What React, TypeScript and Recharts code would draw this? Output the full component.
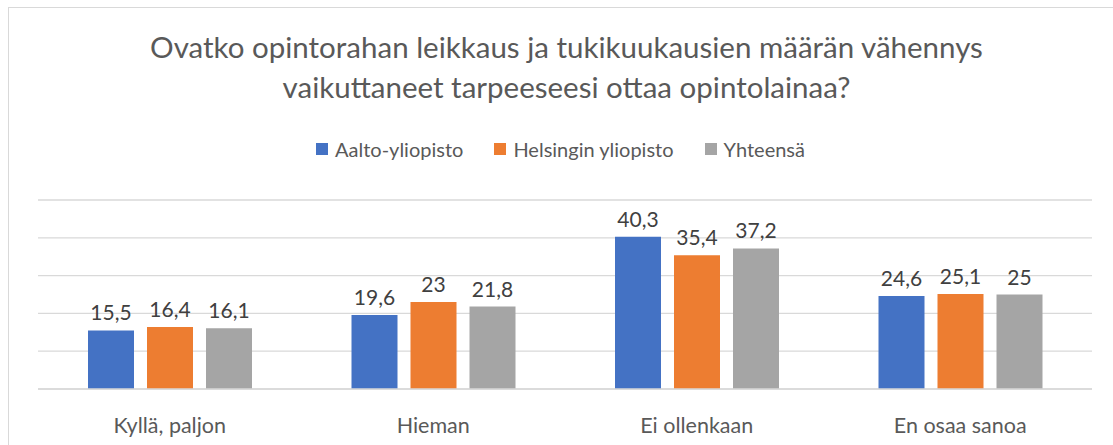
import { BarChart, Bar, XAxis, YAxis, CartesianGrid, LabelList } from "recharts";

const categories = ["Kyllä, paljon", "Hieman", "Ei ollenkaan", "En osaa sanoa"];
const aalto = [15.5, 19.6, 40.3, 24.6];
const helsinki = [16.4, 23, 35.4, 25.1];
const total = [16.1, 21.8, 37.2, 25];
const yTicks = [0, 10, 20, 30, 40, 50];

const series = [
  { key: "aalto", name: "Aalto-yliopisto", color: "#4472C4" },
  { key: "helsinki", name: "Helsingin yliopisto", color: "#ED7D31" },
  { key: "total", name: "Yhteensä", color: "#A5A5A5" },
];

const data = categories.map((c, i) => ({
  name: c,
  aalto: aalto[i],
  helsinki: helsinki[i],
  total: total[i],
}));

const FONT = "Lato, 'Open Sans', sans-serif";

const fmt = (v: any) => String(v).replace(".", ",");

const CategoryTick = ({ x, y, payload }: any) => (
  <text x={x} y={y + 36} textAnchor="middle" fill="#595959" fontSize={21.5} fontFamily={FONT}>
    {payload.value}
  </text>
);

export default function App() {
  return (
    <div style={{ position: "absolute", left: 0, top: 0, width: 1113, height: 445, background: "#fff", fontFamily: FONT, overflow: "hidden" }}>
      <div
        style={{
          position: "absolute",
          left: 8,
          top: 7,
          width: 1120,
          height: 460,
          border: "1.5px solid #D9D9D9",
          boxSizing: "border-box",
        }}
      />
      <div
        style={{
          position: "absolute",
          left: 0,
          top: 27,
          width: 1133,
          textAlign: "center",
          fontSize: 29.5,
          lineHeight: "40px",
          color: "#595959",
          whiteSpace: "nowrap",
        }}
      >
        Ovatko opintorahan leikkaus ja tukikuukausien määrän vähennys
        <br />
        vaikuttaneet tarpeeseesi ottaa opintolainaa?
      </div>
      <div
        style={{
          position: "absolute",
          left: 0,
          top: 137,
          width: 1113,
          display: "flex",
          justifyContent: "center",
          gap: 31,
          fontSize: 20,
          color: "#595959",
          paddingLeft: 8,
          boxSizing: "border-box",
        }}
      >
        {series.map((s) => (
          <div key={s.key} style={{ display: "flex", alignItems: "center" }}>
            <span style={{ display: "inline-block", width: 12, height: 12, background: s.color, marginRight: 7 }} />
            <span>{s.name}</span>
          </div>
        ))}
      </div>
      <div style={{ position: "absolute", left: 0, top: 0 }}>
        <BarChart
          width={1113}
          height={445}
          data={data}
          margin={{ top: 200, right: 21, left: 38, bottom: 26 }}
          barSize={46}
          barGap={13}
        >
          <CartesianGrid vertical={false} stroke="#D9D9D9" strokeWidth={1.3} />
          <XAxis
            dataKey="name"
            axisLine={{ stroke: "#D9D9D9", strokeWidth: 1.3 }}
            tickLine={false}
            height={30}
            tick={<CategoryTick />}
            interval={0}
          />
          <YAxis hide domain={[0, 50]} ticks={yTicks} />
          {series.map((s) => (
            <Bar key={s.key} dataKey={s.key} name={s.name} fill={s.color} isAnimationActive={false}>
              <LabelList
                dataKey={s.key}
                position="top"
                offset={10}
                formatter={fmt}
                fill="#404040"
                fontSize={21}
                fontFamily={FONT}
              />
            </Bar>
          ))}
        </BarChart>
      </div>
    </div>
  );
}
